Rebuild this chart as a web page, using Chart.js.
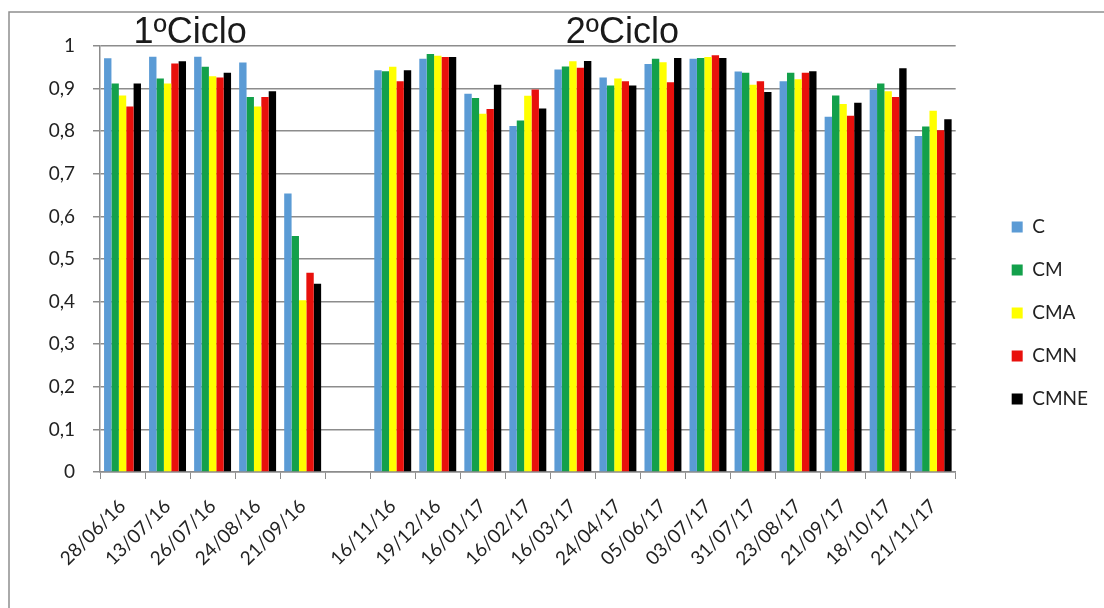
<!DOCTYPE html>
<html>
<head>
<meta charset="utf-8">
<script src="https://cdn.jsdelivr.net/npm/chart.js@4.4.0/dist/chart.umd.min.js"></script>
<style>
  html, body { margin: 0; padding: 0; background: #fff; }
  #wrap { position: relative; width: 1104px; height: 608px; }
</style>
</head>
<body>
<div id="wrap"><canvas id="chart" width="1104" height="608"></canvas></div>
<script>
// dates of each sampling; the empty one separates the two cycles
const labels = ['28/06/16', '13/07/16', '26/07/16', '24/08/16', '21/09/16', '',
  '16/11/16', '19/12/16', '16/01/17', '16/02/17', '16/03/17', '24/04/17', '05/06/17',
  '03/07/17', '31/07/17', '23/08/17', '21/09/17', '18/10/17', '21/11/17'];

const valC    = [0.971, 0.975, 0.975, 0.961, 0.654, null, 0.943, 0.970, 0.888, 0.812, 0.945, 0.926, 0.958, 0.970, 0.940, 0.917, 0.834, 0.898, 0.789];
const valCM   = [0.912, 0.924, 0.951, 0.880, 0.554, null, 0.941, 0.981, 0.878, 0.825, 0.952, 0.907, 0.970, 0.972, 0.937, 0.937, 0.884, 0.912, 0.811];
const valCMA  = [0.884, 0.912, 0.929, 0.858, 0.403, null, 0.951, 0.977, 0.841, 0.883, 0.964, 0.924, 0.962, 0.974, 0.909, 0.922, 0.864, 0.894, 0.848];
const valCMN  = [0.858, 0.959, 0.926, 0.880, 0.468, null, 0.917, 0.974, 0.852, 0.898, 0.949, 0.917, 0.915, 0.978, 0.917, 0.937, 0.836, 0.880, 0.802];
const valCMNE = [0.912, 0.964, 0.937, 0.894, 0.442, null, 0.943, 0.974, 0.909, 0.853, 0.965, 0.907, 0.972, 0.972, 0.892, 0.941, 0.867, 0.948, 0.828];

const seriesNames = ['C', 'CM', 'CMA', 'CMN', 'CMNE'];
const seriesColors = ['#5b9bd5', '#13a04b', '#ffff00', '#e8100c', '#000000'];

// cycle titles, placed at a category index
const cycleTitles = [
  { text: '1ºCiclo', at: 1.5 },
  { text: '2ºCiclo', at: 11.1 }
];

const gridColor = '#8c8c8c';

const decorations = {
  id: 'decorations',
  beforeDraw(chart) {
    const ctx = chart.ctx;
    ctx.save();
    ctx.strokeStyle = '#8f8f8f';
    ctx.lineWidth = 1.5;
    ctx.beginPath();
    ctx.moveTo(9, chart.height);
    ctx.lineTo(9, 12);
    ctx.lineTo(chart.width, 12);
    ctx.stroke();
    ctx.restore();
  },
  afterDraw(chart) {
    const ctx = chart.ctx;
    const x = chart.scales.x;
    ctx.save();
    ctx.font = '36px "Liberation Sans", Arial, sans-serif';
    ctx.fillStyle = '#1a1a1a';
    ctx.textAlign = 'center';
    ctx.textBaseline = 'alphabetic';
    cycleTitles.forEach(t => {
      ctx.fillText(t.text, x.getPixelForValue(t.at), 43);
    });
    ctx.restore();
  }
};

const values = [valC, valCM, valCMA, valCMN, valCMNE];

new Chart(document.getElementById('chart'), {
  type: 'bar',
  data: {
    labels: labels,
    datasets: seriesNames.map((name, i) => ({
      label: name,
      data: values[i],
      backgroundColor: seriesColors[i],
      borderWidth: 0,
      categoryPercentage: 0.82,
      barPercentage: 1.0
    }))
  },
  options: {
    responsive: false,
    animation: false,
    layout: { padding: { top: 46, left: 0, right: 6, bottom: 28 } },
    plugins: {
      tooltip: { enabled: false },
      legend: {
        position: 'right',
        align: 'center',
        labels: {
          boxWidth: 11,
          boxHeight: 11,
          padding: 24,
          color: '#222',
          font: { family: 'Lato', size: 19 }
        }
      }
    },
    scales: {
      x: {
        grid: {
          display: true,
          drawOnChartArea: false,
          offset: true,
          color: gridColor,
          tickLength: 7
        },
        border: { color: gridColor, width: 1.5 },
        ticks: {
          color: '#222',
          font: { family: 'Lato', size: 19 },
          minRotation: 45,
          maxRotation: 45,
          autoSkip: false,
          padding: 16
        },
        afterFit(scale) { scale.height = 108; }
      },
      y: {
        min: 0,
        max: 1,
        grid: {
          color: gridColor,
          lineWidth: 1.5,
          tickLength: 7
        },
        border: { color: gridColor, width: 1.5 },
        ticks: {
          stepSize: 0.1,
          color: '#222',
          font: { family: 'Lato', size: 19 },
          padding: 18,
          callback: v => {
            const r = Math.round(v * 10) / 10;
            if (r === 0) return '0';
            if (r === 1) return '1';
            return r.toFixed(1).replace('.', ',');
          }
        },
        afterFit(scale) { scale.width = 100; }
      },
      // empty strip between the plot and the legend
      spacer: {
        type: 'linear',
        position: 'right',
        grid: { display: false },
        border: { display: false },
        ticks: { display: false },
        afterFit(scale) { scale.width = 32; }
      }
    }
  },
  plugins: [decorations]
});
</script>
</body>
</html>
